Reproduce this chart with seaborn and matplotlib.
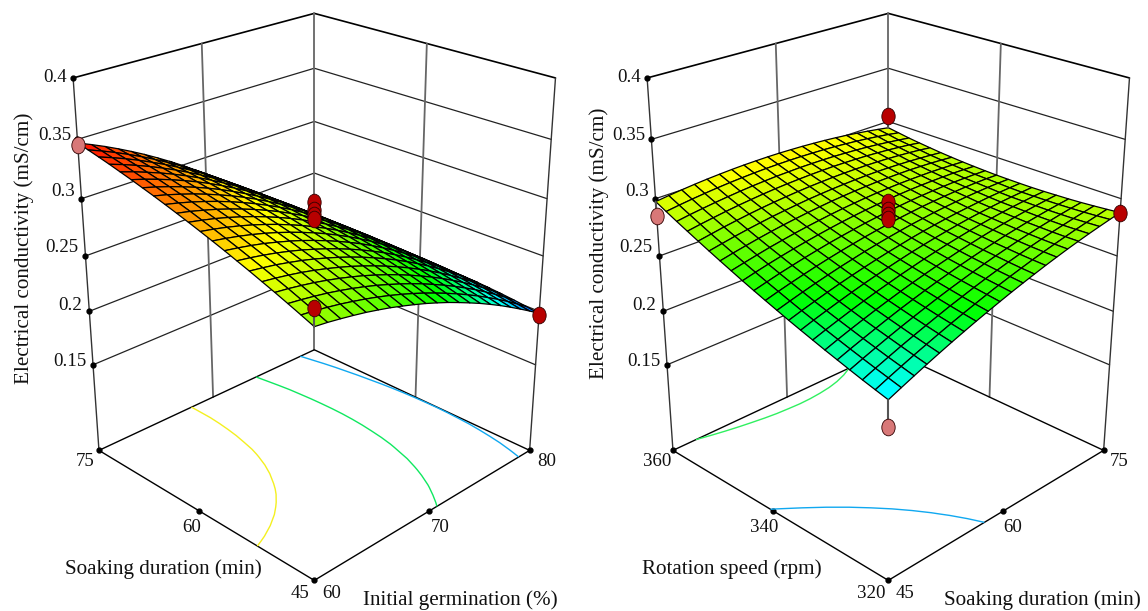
import matplotlib
matplotlib.use('Agg')
import matplotlib.pyplot as plt
import numpy as np
import seaborn as sns
from matplotlib.markers import MarkerStyle
from matplotlib.path import Path
from matplotlib.transforms import Affine2D

# LEFT PANEL DATA

germination = [60, 61, 62, 63, 64, 65, 66, 67, 68, 69, 70, 71, 72, 73, 74, 75, 76, 77, 78, 79, 80]
soaking_left = [45, 46.5, 48, 49.5, 51, 52.5, 54, 55.5, 57, 58.5, 60, 61.5, 63, 64.5, 66, 67.5, 69, 70.5, 72, 73.5, 75]
# rows follow soaking duration, columns follow initial germination
ec_left = [
    [.2800, .2786, .2768, .2748, .2726, .2700, .2672, .2640, .2606, .2570, .2530, .2488, .2442, .2394, .2344, .2290, .2234, .2174, .2112, .2048, .1980],
    [.2844, .2830, .2812, .2792, .2768, .2742, .2713, .2681, .2646, .2608, .2567, .2523, .2476, .2427, .2374, .2319, .2260, .2199, .2135, .2067, .1997],
    [.2887, .2872, .2854, .2834, .2810, .2783, .2753, .2720, .2683, .2644, .2602, .2557, .2508, .2457, .2403, .2345, .2285, .2221, .2154, .2085, .2012],
    [.2929, .2914, .2895, .2874, .2849, .2821, .2790, .2756, .2718, .2678, .2634, .2587, .2537, .2484, .2428, .2368, .2306, .2240, .2171, .2099, .2024],
    [.2969, .2953, .2934, .2912, .2886, .2857, .2825, .2790, .2751, .2709, .2664, .2616, .2564, .2509, .2451, .2390, .2325, .2257, .2186, .2112, .2034],
    [.3009, .2992, .2973, .2949, .2923, .2893, .2859, .2823, .2783, .2740, .2693, .2643, .2590, .2533, .2473, .2410, .2343, .2273, .2200, .2123, .2043],
    [.3047, .3029, .3008, .2984, .2956, .2925, .2890, .2852, .2811, .2766, .2718, .2666, .2611, .2552, .2490, .2425, .2356, .2284, .2208, .2129, .2048],
    [.3085, .3066, .3044, .3019, .2989, .2957, .2921, .2881, .2838, .2792, .2742, .2689, .2632, .2571, .2508, .2440, .2369, .2295, .2218, .2136, .2052],
    [.3121, .3101, .3078, .3051, .3021, .2987, .2949, .2908, .2864, .2816, .2764, .2709, .2650, .2588, .2522, .2453, .2380, .2304, .2224, .2141, .2054],
    [.3156, .3135, .3110, .3082, .3050, .3014, .2975, .2932, .2886, .2836, .2783, .2726, .2665, .2601, .2533, .2462, .2387, .2309, .2227, .2141, .2053],
    [.3190, .3167, .3141, .3111, .3077, .3040, .2999, .2955, .2907, .2855, .2800, .2741, .2679, .2613, .2543, .2470, .2393, .2313, .2229, .2141, .2050],
    [.3223, .3199, .3170, .3139, .3103, .3064, .3022, .2976, .2926, .2872, .2815, .2754, .2690, .2622, .2551, .2475, .2397, .2314, .2228, .2139, .2045],
    [.3255, .3229, .3199, .3165, .3128, .3087, .3042, .2994, .2942, .2887, .2828, .2765, .2699, .2629, .2556, .2478, .2398, .2313, .2225, .2133, .2038],
    [.3286, .3258, .3225, .3190, .3150, .3107, .3061, .3011, .2957, .2899, .2838, .2773, .2705, .2633, .2558, .2478, .2396, .2309, .2219, .2126, .2028],
    [.3315, .3284, .3250, .3212, .3171, .3126, .3077, .3024, .2968, .2909, .2846, .2779, .2708, .2634, .2557, .2476, .2391, .2302, .2210, .2114, .2016],
    [.3344, .3311, .3274, .3234, .3190, .3143, .3092, .3037, .2979, .2918, .2853, .2783, .2711, .2635, .2555, .2472, .2385, .2295, .2201, .2103, .2003],
    [.3371, .3336, .3296, .3254, .3208, .3158, .3105, .3048, .2987, .2924, .2856, .2785, .2710, .2632, .2551, .2465, .2377, .2284, .2188, .2089, .1986],
    [.3398, .3360, .3318, .3273, .3224, .3172, .3116, .3057, .2994, .2928, .2858, .2785, .2709, .2628, .2545, .2458, .2367, .2273, .2175, .2074, .1968],
    [.3423, .3382, .3338, .3290, .3238, .3184, .3125, .3064, .2999, .2930, .2858, .2783, .2704, .2621, .2535, .2446, .2353, .2257, .2158, .2055, .1948],
    [.3447, .3403, .3356, .3305, .3251, .3193, .3132, .3068, .3000, .2929, .2855, .2777, .2696, .2611, .2523, .2432, .2337, .2239, .2138, .2033, .1925],
    [.3470, .3423, .3373, .3319, .3262, .3202, .3138, .3071, .3001, .2927, .2851, .2770, .2687, .2600, .2510, .2417, .2320, .2221, .2117, .2011, .1900],
]

# RIGHT PANEL DATA

soaking_right = [45, 46.5, 48, 49.5, 51, 52.5, 54, 55.5, 57, 58.5, 60, 61.5, 63, 64.5, 66, 67.5, 69, 70.5, 72, 73.5, 75]
rotation = [320, 322, 324, 326, 328, 330, 332, 334, 336, 338, 340, 342, 344, 346, 348, 350, 352, 354, 356, 358, 360]
# rows follow rotation speed, columns follow soaking duration
ec_right = [
    [.2220, .2266, .2311, .2355, .2397, .2438, .2477, .2515, .2551, .2586, .2620, .2652, .2683, .2713, .2741, .2768, .2793, .2817, .2839, .2860, .2880],
    [.2249, .2294, .2337, .2379, .2419, .2458, .2496, .2532, .2566, .2600, .2632, .2662, .2690, .2718, .2744, .2768, .2791, .2813, .2833, .2852, .2870],
    [.2278, .2322, .2363, .2404, .2442, .2479, .2515, .2550, .2582, .2614, .2644, .2672, .2699, .2724, .2748, .2770, .2791, .2810, .2828, .2845, .2861],
    [.2309, .2351, .2391, .2430, .2467, .2502, .2536, .2569, .2600, .2629, .2657, .2684, .2709, .2732, .2754, .2774, .2793, .2810, .2826, .2840, .2853],
    [.2341, .2381, .2419, .2456, .2492, .2526, .2558, .2589, .2618, .2645, .2672, .2696, .2719, .2740, .2760, .2778, .2795, .2810, .2824, .2836, .2847],
    [.2373, .2412, .2449, .2484, .2518, .2550, .2581, .2610, .2637, .2663, .2687, .2710, .2731, .2751, .2769, .2785, .2800, .2813, .2824, .2834, .2843],
    [.2407, .2444, .2479, .2513, .2545, .2576, .2604, .2632, .2657, .2682, .2704, .2725, .2744, .2762, .2778, .2792, .2805, .2816, .2825, .2833, .2839],
    [.2441, .2477, .2510, .2542, .2573, .2602, .2629, .2654, .2678, .2701, .2721, .2740, .2757, .2773, .2787, .2799, .2810, .2819, .2826, .2832, .2837],
    [.2476, .2510, .2542, .2573, .2602, .2629, .2654, .2678, .2700, .2720, .2740, .2757, .2772, .2786, .2798, .2808, .2817, .2825, .2830, .2834, .2837],
    [.2513, .2545, .2576, .2605, .2632, .2658, .2681, .2704, .2724, .2743, .2760, .2776, .2789, .2802, .2812, .2821, .2828, .2833, .2837, .2839, .2838],
    [.2550, .2581, .2610, .2637, .2663, .2687, .2709, .2729, .2748, .2765, .2780, .2794, .2806, .2817, .2825, .2832, .2837, .2841, .2843, .2843, .2840],
    [.2588, .2617, .2645, .2670, .2694, .2716, .2737, .2755, .2772, .2788, .2801, .2813, .2823, .2832, .2839, .2844, .2847, .2849, .2848, .2847, .2844],
    [.2627, .2655, .2681, .2705, .2727, .2747, .2766, .2783, .2799, .2812, .2824, .2834, .2843, .2850, .2855, .2858, .2859, .2859, .2858, .2854, .2849],
    [.2668, .2693, .2717, .2740, .2760, .2779, .2796, .2811, .2825, .2837, .2847, .2856, .2863, .2868, .2871, .2872, .2872, .2871, .2867, .2862, .2855],
    [.2709, .2733, .2755, .2776, .2795, .2812, .2827, .2841, .2853, .2864, .2872, .2879, .2884, .2888, .2889, .2889, .2888, .2884, .2879, .2872, .2863],
    [.2751, .2773, .2794, .2813, .2830, .2846, .2859, .2871, .2882, .2890, .2897, .2902, .2906, .2908, .2908, .2906, .2902, .2897, .2890, .2882, .2872],
    [.2794, .2814, .2834, .2851, .2867, .2881, .2893, .2903, .2912, .2919, .2924, .2928, .2930, .2930, .2929, .2926, .2921, .2914, .2906, .2896, .2883],
    [.2838, .2857, .2874, .2890, .2904, .2916, .2927, .2936, .2943, .2948, .2952, .2954, .2955, .2953, .2950, .2946, .2939, .2931, .2921, .2910, .2895],
    [.2882, .2900, .2915, .2929, .2941, .2952, .2961, .2968, .2974, .2977, .2980, .2980, .2979, .2976, .2971, .2965, .2957, .2947, .2935, .2922, .2908],
    [.2928, .2944, .2958, .2970, .2981, .2990, .2997, .3003, .3007, .3009, .3010, .3009, .3006, .3002, .2996, .2988, .2979, .2968, .2955, .2941, .2924],
    [.2975, .2989, .3001, .3012, .3021, .3028, .3034, .3038, .3040, .3041, .3040, .3037, .3033, .3027, .3020, .3011, .3000, .2987, .2973, .2957, .2940],
]

# design points: x, y, measured value
center_values = [.2975, .2905, .2860, .2825]
points_left_above = [(60, 45, .2943), (80, 45, .1970)]
points_left_below = [(60, 75, .3450)]
points_right_above = [(75, 360, .3055), (75, 320, .2880)]
points_right_below = [(45, 360, .2847), (45, 320, .2000)]

z_ticks = [.15, .2, .25, .3, .35, .4]
z_labels = ['0.15', '0.2', '0.25', '0.3', '0.35', '0.4']
z_floor = .0665

contour_left = [.2058, .25, .3]
contour_left_colors = ['#10a8f0', '#10e860', '#f4f020']
contour_right = [.256, .3]
contour_right_colors = ['#10a8f0', '#30f060']

color_levels = [.19, .222, .252, .30, .35]
color_steps = [0, .25, .5, .75, 1]

sns.set_style('white')
plt.rcParams['font.family'] = ['Liberation Serif', 'DejaVu Serif']

W, H = 1148, 611
surface_cmap = sns.blend_palette(['#0000ff', '#00ffff', '#00ff00', '#ffff00', '#ff0000'], as_cmap=True)
dot_marker = MarkerStyle(Path.unit_circle().transformed(Affine2D().scale(.8, 1)))

fig = plt.figure(figsize=(W / 100, H / 100), dpi=100)


def put_text(x, y, label, size=13.6, ha='center', rotation=0):
    fig.text(x / W, 1 - y / H, label, fontsize=size, ha=ha, va='center', rotation=rotation, color='#111111')


def draw_panel(left, xs, ys, zs, levels, level_colors, above, below):
    ax = fig.add_axes([left / W, 2 / H, 651 / W, 651 / H], projection='3d', computed_zorder=False)
    ax.set_proj_type('persp', focal_length=.4345)
    ax.view_init(elev=25, azim=-135)
    ax.set_box_aspect((1, 1, 1.273), zoom=.913)
    ax.set_xlim(xs[0], xs[-1])
    ax.set_ylim(ys[0], ys[-1])
    ax.set_zlim(z_floor, .4)
    ax.set_axis_off()
    ax.patch.set_alpha(0)

    x0, x1, y0, y1 = xs[0], xs[-1], ys[0], ys[-1]
    xm, ym = xs[10], ys[10]

    # back walls
    for z in z_ticks[:-1]:
        ax.plot([x0, x1, x1], [y1, y1, y0], [z, z, z], color='#222222', lw=.9, zorder=1)
    ax.plot([x0, x1, x1], [y1, y1, y0], [.4, .4, .4], color='black', lw=1.2, zorder=1)
    for x, y in [(x0, y1), (x1, y0)]:
        ax.plot([x, x], [y, y], [z_floor, .4], color='#333333', lw=1, zorder=1)
    for x, y in [(x1, y1), (xm, y1), (x1, ym)]:
        ax.plot([x, x], [y, y], [z_floor, .4], color='#666666', lw=1.3, zorder=1)

    # floor
    ax.plot([x0, x1, x1, x0, x0], [y0, y0, y1, y1, y0], [z_floor] * 5, color='black', lw=1, zorder=1)
    ax.plot([x0] * len(z_ticks), [y1] * len(z_ticks), z_ticks, 'o', color='black', ms=3.5, zorder=2)
    ax.plot([x0, x0, x0, xm, x1], [y1, ym, y0, y0, y0], [z_floor] * 5, 'o', color='black', ms=3.5, zorder=2)

    X, Y = np.meshgrid(xs, ys)
    Z = np.array(zs)
    ax.contour(X, Y, Z, levels=levels, colors=level_colors, zdir='z', offset=z_floor, linewidths=1, zorder=2)

    faces = surface_cmap(np.interp(Z, color_levels, color_steps))
    ax.plot_surface(X, Y, Z, facecolors=faces, edgecolor='black', linewidth=.9, rstride=1, cstride=1,
                    shade=False, zorder=3)

    # design points and their drop lines
    for group, color in [(below, '#d87878'), (above, '#b80000')]:
        for x, y, z in group:
            ix, iy = xs.index(x), ys.index(y)
            ax.plot([x, x], [y, y], [Z[iy][ix], z], color='#555555', lw=1.5, zorder=4)
            ax.plot([x], [y], [z], marker=dot_marker, color=color, mec='#300000', mew=.6, ms=12, zorder=5)
    for z in center_values:
        ax.plot([xm], [ym], [z], marker=dot_marker, color='#b80000', mec='#300000', mew=.6, ms=12, zorder=5)


draw_panel(-20, germination, soaking_left, ec_left, contour_left, contour_left_colors,
           points_left_above, points_left_below)
draw_panel(554, soaking_right, rotation, ec_right, contour_right, contour_right_colors,
           points_right_above, points_right_below)

# LABELS

for label, x, y in zip(z_labels, [86, 82, 78, 75, 71, 67], [362, 305, 248, 192, 135, 78]):
    put_text(x, y, label, ha='right')
for label, x, y in zip(z_labels, [660, 656, 652, 649, 645, 641], [362, 305, 248, 192, 135, 78]):
    put_text(x, y, label, ha='right')

for label, x, y in [('75', 85, 462), ('60', 192, 528), ('45', 300, 593), ('60', 332, 593), ('70', 440, 528), ('80', 547, 462),
                    ('360', 657, 462), ('340', 764, 528), ('320', 871, 593), ('45', 905, 593), ('60', 1013, 528), ('75', 1119, 462)]:
    put_text(x, y, label)

put_text(163, 569, 'Soaking duration (min)', size=15.2)
put_text(460, 600, 'Initial germination (%)', size=15.2)
put_text(24, 248, 'Electrical conductivity (mS/cm)', size=15.2, rotation=90)
put_text(732, 569, 'Rotation speed (rpm)', size=15.2)
put_text(1042, 600, 'Soaking duration (min)', size=15.2)
put_text(599, 243, 'Electrical conductivity (mS/cm)', size=15.2, rotation=90)

plt.savefig('out.png', dpi=100)
